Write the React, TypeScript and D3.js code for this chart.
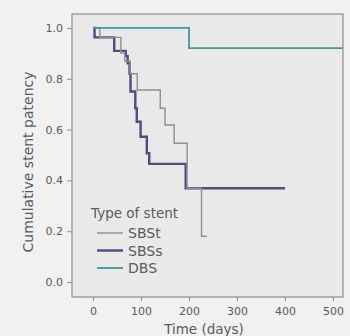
import React, { useEffect, useRef } from 'react'
import * as d3 from 'd3'

// Kaplan-Meier steps (days, cumulative patency)
const sbstTimes = [0, 14, 58, 66, 77, 92, 140, 150, 169, 196, 226, 237]
const sbstValues = [1, 0.963, 0.9, 0.87, 0.82, 0.756, 0.684, 0.618, 0.546, 0.369, 0.18, 0.18]

const sbssTimes = [0, 3, 44, 68, 72, 76, 78, 88, 91, 99, 112, 117, 193, 400]
const sbssValues = [1, 0.963, 0.91, 0.89, 0.861, 0.82, 0.75, 0.684, 0.631, 0.572, 0.507, 0.465, 0.369, 0.369]

const dbsTimes = [0, 200, 520]
const dbsValues = [1, 0.921, 0.921]

const xTicks = [0, 100, 200, 300, 400, 500]
const yTicks = [0, 0.2, 0.4, 0.6, 0.8, 1.0]

const seriesNames = ['SBSt', 'SBSs', 'DBS']

interface Point {
  t: number
  v: number
}

const toPoints = (times: number[], values: number[]): Point[] =>
  times.map((t, i) => ({ t, v: values[i] }))

const App: React.FC = () => {
  const svgRef = useRef<SVGSVGElement | null>(null)

  useEffect(() => {
    document.body.style.margin = '0'
    if (!svgRef.current) return
    const svg = d3.select(svgRef.current)
    svg.selectAll('*').remove()

    const font = '"DejaVu Sans", sans-serif'
    const textColor = '#5a5a5a'

    const x = d3.scaleLinear().domain([-44, 521]).range([72, 343])
    const y = d3.scaleLinear().domain([-0.059, 1.055]).range([297, 14])

    svg.append('rect').attr('width', 350).attr('height', 336).attr('fill', '#f1f1f1')

    // plot area
    svg.append('rect')
      .attr('x', x.range()[0])
      .attr('y', y.range()[1])
      .attr('width', x.range()[1] - x.range()[0])
      .attr('height', y.range()[0] - y.range()[1])
      .attr('fill', '#e9e9e9')
      .attr('stroke', '#8e8e8e')
      .attr('stroke-width', 1.2)

    // x axis
    const xAxis = svg.append('g')
      .attr('transform', `translate(0, ${y.range()[0]})`)
      .call(d3.axisBottom(x).tickValues(xTicks).tickSize(4).tickSizeOuter(0).tickPadding(6))
    xAxis.select('.domain').remove()
    xAxis.selectAll('line').attr('stroke', '#8e8e8e')
    xAxis.selectAll('text')
      .attr('fill', textColor)
      .style('font-family', font)
      .style('font-size', '11px')

    // y axis
    const yAxis = svg.append('g')
      .attr('transform', `translate(${x.range()[0]}, 0)`)
      .call(d3.axisLeft(y).tickValues(yTicks).tickFormat(d3.format('.1f')).tickSize(5).tickSizeOuter(0).tickPadding(4))
    yAxis.select('.domain').remove()
    yAxis.selectAll('line').attr('stroke', '#8e8e8e')
    yAxis.selectAll('text')
      .attr('fill', textColor)
      .style('font-family', font)
      .style('font-size', '11px')

    // axis titles
    svg.append('text')
      .attr('x', 204)
      .attr('y', 334)
      .attr('text-anchor', 'middle')
      .attr('fill', textColor)
      .style('font-family', font)
      .style('font-size', '13.5px')
      .text('Time (days)')

    svg.append('text')
      .attr('transform', 'rotate(-90)')
      .attr('x', -162)
      .attr('y', 33)
      .attr('text-anchor', 'middle')
      .attr('fill', textColor)
      .style('font-family', font)
      .style('font-size', '14px')
      .text('Cumulative stent patency')

    const line = d3.line<Point>()
      .x(d => x(d.t))
      .y(d => y(d.v))
      .curve(d3.curveStepAfter)

    const styles = [
      { color: '#8f8f8f', width: 1.4 },
      { color: '#4a4f7e', width: 2.4 },
      { color: '#3d9b99', width: 1.8 },
    ]
    const data = [
      toPoints(sbstTimes, sbstValues),
      toPoints(sbssTimes, sbssValues),
      toPoints(dbsTimes, dbsValues),
    ]

    // draw SBSs, SBSt, then DBS on top
    ;[1, 0, 2].forEach(i => {
      svg.append('path')
        .datum(data[i])
        .attr('fill', 'none')
        .attr('stroke', styles[i].color)
        .attr('stroke-width', styles[i].width)
        .attr('d', line)
    })

    // legend
    const legend = svg.append('g')
    legend.append('text')
      .attr('x', 91)
      .attr('y', 218)
      .attr('fill', textColor)
      .style('font-family', font)
      .style('font-size', '13.5px')
      .text('Type of stent')

    seriesNames.forEach((name, i) => {
      const rowY = 238 + i * 17.5
      legend.append('line')
        .attr('x1', 97)
        .attr('x2', 123)
        .attr('y1', rowY - 5)
        .attr('y2', rowY - 5)
        .attr('stroke', styles[i].color)
        .attr('stroke-width', styles[i].width)
      legend.append('text')
        .attr('x', 128)
        .attr('y', rowY)
        .attr('fill', textColor)
        .style('font-family', font)
        .style('font-size', '14px')
        .text(name)
    })
  }, [])

  return <svg ref={svgRef} width={350} height={336} style={{ display: 'block' }} />
}

export default App
